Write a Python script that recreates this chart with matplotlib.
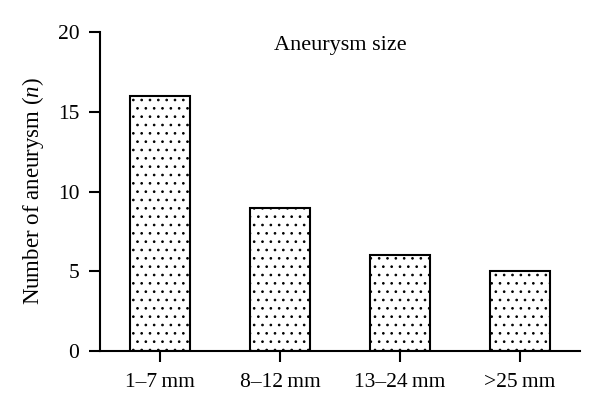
import matplotlib.pyplot as plt

categories = ["1\u20137\u2009mm", "8\u201312\u2009mm", "13\u201324\u2009mm", ">25\u2009mm"]
counts = [16, 9, 6, 5]
yticks = [0, 5, 10, 15, 20]

plt.rcParams["font.family"] = ["Liberation Serif", "DejaVu Serif"]
plt.rcParams["mathtext.fontset"] = "custom"
plt.rcParams["mathtext.rm"] = "Liberation Serif"
plt.rcParams["mathtext.it"] = "Liberation Serif:italic"
plt.rcParams["hatch.linewidth"] = 0.7

fig = plt.figure(figsize=(6, 4.16), dpi=100)
ax = fig.add_axes([0.1667, 0.156, 0.8, 0.767])

x = range(len(categories))
ax.bar(x, counts, width=0.5, color="white", edgecolor="black",
       linewidth=1.5, hatch="..")

ax.set_xlim(-0.5, 3.5)
ax.set_ylim(0, 20)
ax.set_yticks(yticks)
ax.set_xticks(list(x))
ax.set_xticklabels(categories)
ax.spines["top"].set_visible(False)
ax.spines["right"].set_visible(False)
for s in ("left", "bottom"):
    ax.spines[s].set_linewidth(1.5)
ax.tick_params(direction="out", length=8, width=1.5, labelsize=15.5)
ax.tick_params(axis="x", pad=8)
ax.tick_params(axis="y", pad=7)
ax.set_ylabel("Number of aneurysm ($n$)", fontsize=16.5, labelpad=8)
ax.text(0.5, 0.959, "Aneurysm size", transform=ax.transAxes,
        ha="center", va="center", fontsize=16)

fig.savefig("out.png", dpi=100)
